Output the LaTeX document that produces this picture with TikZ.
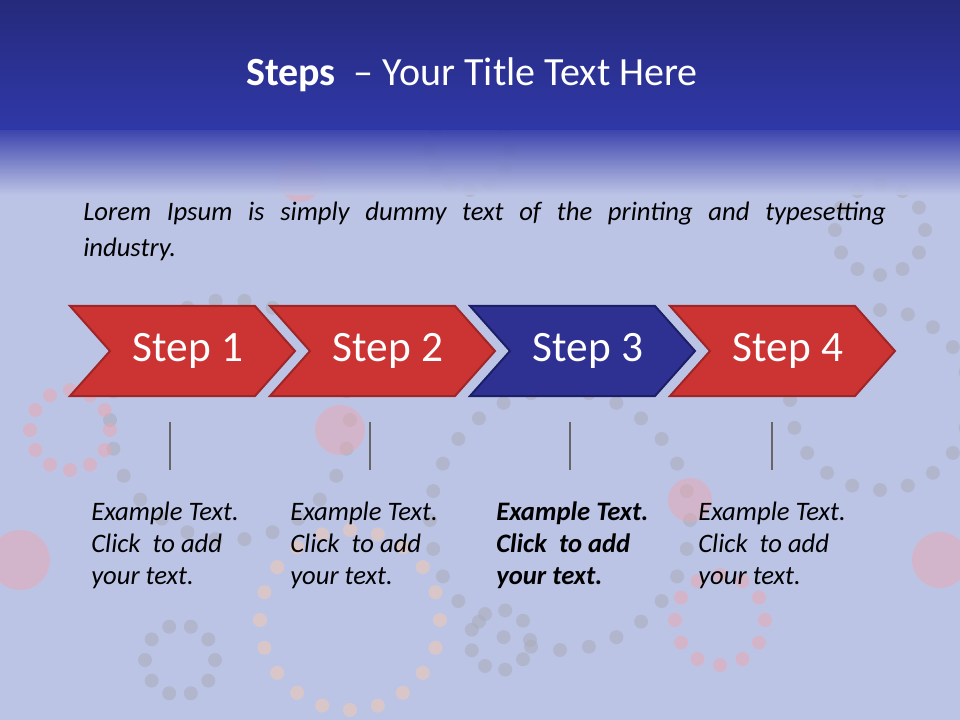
\documentclass[tikz,border=0pt]{standalone}
\usepackage{fontspec}
\setmainfont{Carlito}
\definecolor{bgl}{HTML}{BCC4E6}
\definecolor{tdark}{HTML}{252A7C}
\definecolor{tmid}{HTML}{3038A8}
\definecolor{sred}{HTML}{CC3333}
\definecolor{sredb}{HTML}{9E2626}
\definecolor{sblue}{HTML}{2E3192}
\definecolor{sblueb}{HTML}{1C1E66}
\definecolor{dotg}{HTML}{A8ACB8}
\definecolor{dotp}{HTML}{E8A8B0}
\definecolor{doto}{HTML}{F2C8B0}
\tikzset{
  chev/.style={line width=1.5pt},
  steptxt/.style={text=white,font=\fontsize{32.5}{36}\selectfont},
  tick/.style={draw=gray!80!black,line width=2pt},
  ex/.style={anchor=north west,align=left,font=\fontsize{20}{24}\selectfont\itshape,inner sep=0pt},
}
\begin{document}
\begin{tikzpicture}[x=0.75pt,y=-0.75pt]
\useasboundingbox (0,0) rectangle (960,720);
\fill[bgl] (0,0) rectangle (960,720);
% decorative dots
\foreach \cx/\cy/\r/\n/\c in {230/420/120/26/dotg,560/520/130/28/dotg,880/400/90/20/dotg,70/430/40/12/dotp,180/660/35/10/dotg,500/640/30/9/dotg,720/620/45/12/dotp,880/230/45/12/dotg,470/150/40/12/dotg,350/620/90/20/doto}{
  \foreach \k in {1,...,\n}{
    \fill[\c,opacity=0.55] ({\cx+\r*cos(360*\k/\n)},{\cy+\r*sin(360*\k/\n)}) circle (7);
  }
}
\foreach \cx/\cy/\r in {340/430/25,690/500/22,20/560/30,940/560/28,300/180/22}{
  \fill[dotp,opacity=0.5] (\cx,\cy) circle (\r);
}
% title band
\shade[top color=tdark,bottom color=tmid] (0,0) rectangle (960,130);
\shade[top color=tmid,bottom color=bgl,opacity=0.9] (0,130) rectangle (960,195);
\node[text=white,font=\fontsize{30}{34}\selectfont] (title) at (472,75) {\textbf{Steps} \ – Your Title Text Here};
\node[anchor=north west,inner sep=0pt,text width=602pt,align=justify,font=\fontsize{20}{27}\selectfont\itshape] (lorem) at (83,202) {Lorem Ipsum is simply dummy text of the printing and typesetting\linebreak industry.};
% chevrons
\foreach \i/\x/\f/\b in {1/70/sred/sredb,2/270/sred/sredb,3/470/sblue/sblueb,4/670/sred/sredb}{
  \filldraw[chev,fill=\f,draw=\b] (\x,306) -- ++(185,0) -- ++(40,45) -- ++(-40,45) -- ++(-185,0) -- ++(40,-45) -- cycle;
  \node[steptxt] (s\i) at (\x+118,351) {Step \i};
}
% ticks
\foreach \i/\x in {1/170,2/370,3/570,4/772}{
  \coordinate (t\i a) at (\x,422); \coordinate (t\i b) at (\x,470);
  \draw[tick] (t\i a) -- (t\i b);
}
\node[ex] (e1) at (91,502) {Example Text.\\Click\ \ to add\\your text.};
\node[ex] (e2) at (290,502) {Example Text.\\Click\ \ to add\\your text.};
\node[ex,font=\fontsize{20}{24}\selectfont\itshape\bfseries] (e3) at (496,502) {Example Text.\\Click\ \ to add\\your text.};
\node[ex] (e4) at (698,502) {Example Text.\\Click\ \ to add\\your text.};
\end{tikzpicture}
\end{document}
